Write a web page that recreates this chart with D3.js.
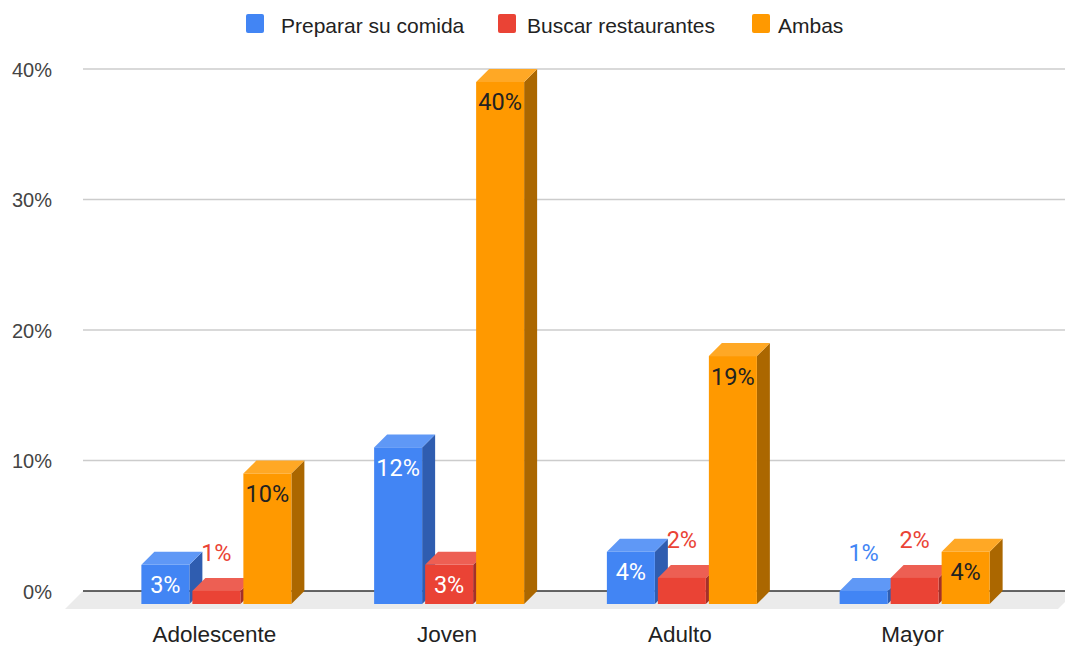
<!DOCTYPE html>
<html>
<head>
<meta charset="utf-8">
<script src="https://cdn.jsdelivr.net/npm/d3@7"></script>
<style>
  html, body { margin: 0; padding: 0; background: #fff; }
  svg { display: block; font-family: "Liberation Sans", Arial, sans-serif; }
</style>
</head>
<body>
<svg id="chart" width="1065" height="646"></svg>
<script>
// Age groups and the share (%) answering each option
const categories = ["Adolescente", "Joven", "Adulto", "Mayor"];
const seriesNames = ["Preparar su comida", "Buscar restaurantes", "Ambas"];
const preparar = [3, 12, 4, 1];
const buscar = [1, 3, 2, 2];
const ambas = [10, 40, 19, 4];
const yTicks = [0, 10, 20, 30, 40];

const seriesValues = [preparar, buscar, ambas];
const colors = {
  front: ["#4285F4", "#EA4335", "#FF9900"],
  top:   ["#5f98f6", "#ed5f53", "#ffa825"],
  side:  ["#2f5db0", "#a3302a", "#ab6700"],
  inside: ["#ffffff", "#ffffff", "#222222"]
};

const svg = d3.select("#chart");
const depth = 13;          // 3D offset of the bar tops / sides
const barW = 48, barGap = 3;
const gridLeft = 83, gridRight = 1065;

const y = d3.scaleLinear().domain([0, 40]).range([591, 69]);
const x = d3.scaleBand().domain(categories).range([100, 1031]).padding(0);

// floor slab
const y0 = y(0);
svg.append("polygon")
  .attr("points", [[gridLeft, y0], [gridRight, y0], [gridRight, y0 + 11], [1058, y0 + 18], [65, y0 + 18]].map(p => p.join(",")).join(" "))
  .attr("fill", "#ebebeb");

// gridlines
svg.append("g").selectAll("line").data(yTicks.filter(t => t > 0)).join("line")
  .attr("x1", gridLeft).attr("x2", gridRight)
  .attr("y1", d => y(d)).attr("y2", d => y(d))
  .attr("stroke", "#cccccc").attr("stroke-width", 1.3);

// baseline
svg.append("line")
  .attr("x1", gridLeft).attr("x2", gridRight)
  .attr("y1", y0).attr("y2", y0)
  .attr("stroke", "#333333").attr("stroke-width", 1.6);

// y axis labels
const yAxis = d3.axisLeft(y).tickValues(yTicks).tickFormat(d => d + "%").tickSize(0).tickPadding(0);
const ya = svg.append("g").attr("transform", "translate(52,0)").call(yAxis);
ya.select(".domain").remove();
ya.selectAll("text")
  .attr("font-family", "'Liberation Sans', Arial, sans-serif")
  .attr("font-size", 20).attr("fill", "#444444").attr("dy", "0.35em");

// bars
const bars = [];
categories.forEach((c, ci) => {
  seriesValues.forEach((vals, si) => {
    bars.push({ cat: c, si, v: vals[ci] });
  });
});

const barX = d => x(d.cat) + x.bandwidth() / 2 - (3 * barW + 2 * barGap) / 2 + d.si * (barW + barGap);

const g = svg.append("g");
bars.forEach(d => {
  const xl = barX(d), xr = xl + barW;
  const yt = y(d.v) + depth, yb = y0 + depth;
  // right side face
  g.append("polygon")
    .attr("points", [[xr, yt], [xr + depth, yt - depth], [xr + depth, yb - depth], [xr, yb]].map(p => p.join(",")).join(" "))
    .attr("fill", colors.side[d.si]);
  // top face
  g.append("polygon")
    .attr("points", [[xl, yt], [xl + depth, yt - depth], [xr + depth, yt - depth], [xr, yt]].map(p => p.join(",")).join(" "))
    .attr("fill", colors.top[d.si]);
  // front face
  g.append("rect")
    .attr("x", xl).attr("y", yt).attr("width", barW).attr("height", yb - yt)
    .attr("fill", colors.front[d.si]);
});

// value labels
const lab = svg.append("g")
  .attr("font-family", "Roboto, Arial, sans-serif")
  .attr("font-size", 23.5).attr("text-anchor", "middle");
bars.forEach(d => {
  const cx = barX(d) + barW / 2;
  const frontTop = y(d.v) + depth;
  const frontH = y0 + depth - frontTop;
  const inside = frontH >= 30;
  lab.append("text")
    .attr("x", cx)
    .attr("y", inside ? frontTop + 20 : y(d.v) - 25)
    .attr("dy", "0.36em")
    .attr("fill", inside ? colors.inside[d.si] : colors.front[d.si])
    .text(d.v + "%");
});

// category labels
svg.append("g").selectAll("text").data(categories).join("text")
  .attr("x", d => x(d) + x.bandwidth() / 2 - 2)
  .attr("y", 642)
  .attr("text-anchor", "middle")
  .attr("font-size", 22.5)
  .attr("fill", "#222222")
  .text(d => d);

// legend
const legendItems = [
  { name: seriesNames[0], color: colors.front[0], sx: 246, tx: 281 },
  { name: seriesNames[1], color: colors.front[1], sx: 498, tx: 527 },
  { name: seriesNames[2], color: colors.front[2], sx: 752, tx: 778 }
];
const lg = svg.append("g");
legendItems.forEach(it => {
  lg.append("rect").attr("x", it.sx).attr("y", 14).attr("width", 18).attr("height", 19)
    .attr("rx", 2).attr("fill", it.color);
  lg.append("text").attr("x", it.tx).attr("y", 25).attr("dy", "0.36em")
    .attr("font-size", 21).attr("fill", "#222222").text(it.name);
});
</script>
</body>
</html>
